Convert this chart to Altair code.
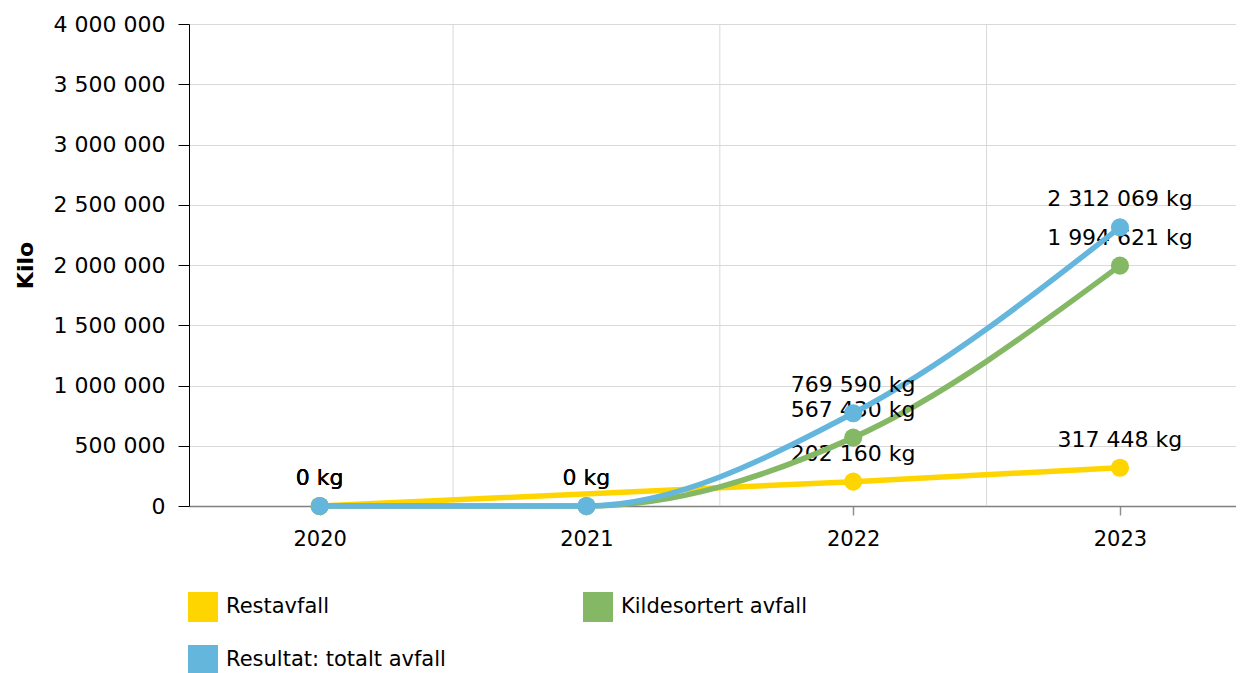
import altair as alt
import pandas as pd

years = [2020, 2021, 2022, 2023]
series_names = ["Restavfall", "Kildesortert avfall", "Resultat: totalt avfall"]
restavfall = [0, None, 202160, 317448]
kildesortert = [0, 0, 567430, 1994621]
totalt = [0, 0, 769590, 2312069]
colors = ["#FFD500", "#85B865", "#64B6DC"]
grid_x = [2020.5, 2021.5, 2022.5]
y_ticks = [0, 500000, 1000000, 1500000, 2000000, 2500000, 3000000, 3500000, 4000000]

rows = []
for name, vals in zip(series_names, [restavfall, kildesortert, totalt]):
    for yr, v in zip(years, vals):
        if v is None:
            continue
        rows.append({"year": yr, "series": name, "value": v,
                     "label": f"{v:,}".replace(",", " ") + " kg"})
df = pd.DataFrame(rows)
grid_df = pd.DataFrame({"gx": grid_x})

FONT = "DejaVu Sans"

x_scale = alt.Scale(domain=[2019.51, 2023.435], nice=False, zero=False)
y_scale = alt.Scale(domain=[0, 4000000], nice=False)
color_scale = alt.Scale(domain=series_names, range=colors)

x_enc = alt.X("year:Q", scale=x_scale,
              axis=alt.Axis(values=years, format="d", grid=False, ticks=True,
                            tickSize=9, tickColor="#909090", tickWidth=1.5,
                            title=None, labelPadding=13, labelFontSize=21,
                            labelColor="#000", domainColor="#808080",
                            domainWidth=1.5, labelFont=FONT))
y_enc = alt.Y("value:Q", scale=y_scale,
              axis=alt.Axis(values=y_ticks, title="Kilo", titleFontSize=22,
                            titleFontWeight="bold", titleFont=FONT, titleColor="#000",
                            titlePadding=16,
                            labelExpr="replace(format(datum.value, ','), regexp(',', 'g'), ' ')",
                            labelFontSize=22, labelFont=FONT, labelColor="#000",
                            tickSize=11, tickColor="#000", domainColor="#000",
                            labelPadding=13, gridColor="#d9d9d9", grid=True))

base = alt.Chart(df)

grid = alt.Chart(grid_df).mark_rule(color="#d9d9d9", strokeWidth=1).encode(
    x=alt.X("gx:Q", scale=x_scale)
)

legend = alt.Legend(title=None, orient="none", direction="horizontal",
                    columns=2, legendX=-1, legendY=568,
                    symbolType="square", symbolSize=900,
                    symbolStrokeWidth=0, symbolOpacity=1,
                    labelFontSize=21, labelFont=FONT, labelLimit=500,
                    labelColor="#000", labelOffset=8,
                    columnPadding=137, rowPadding=23)

layers = [grid]
for i, name in enumerate(series_names):
    sub = base.transform_filter(alt.datum.series == name)
    line = sub.mark_line(interpolate="monotone", strokeWidth=5.5, color=colors[i]).encode(
        x=x_enc, y=y_enc,
    )
    pts = sub.mark_circle(size=330, opacity=1).encode(
        x=x_enc, y=y_enc,
        color=alt.Color("series:N", scale=color_scale, sort=series_names, legend=legend),
    )
    txt = sub.mark_text(fontSize=22, font=FONT, dy=-28, color="#000").encode(
        x=x_enc, y=y_enc, text="label:N"
    )
    layers += [line, pts, txt]

chart = alt.layer(*layers).properties(
    width=1047, height=482,
    autosize=alt.AutoSizeParams(type="none"),
    padding={"left": 181, "top": 16, "right": 0, "bottom": 180},
).configure_view(stroke=None).configure(font=FONT)

chart.save("out.html", embed_options={"renderer": "svg", "actions": False})
